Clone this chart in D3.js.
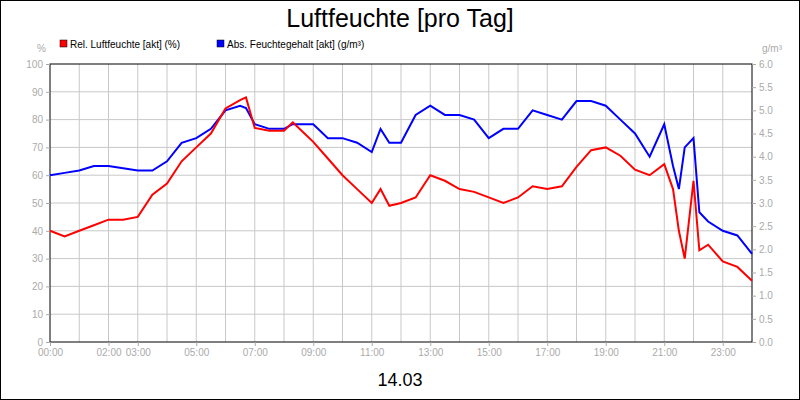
<!DOCTYPE html><html><head><script src="https://cdn.jsdelivr.net/npm/d3@7"></script>
<style>body{margin:0}svg{font-family:Arial,"Liberation Sans",sans-serif}</style></head><body><svg width="800" height="400"></svg>
<script>
const hours=[0,0.5,1,1.5,2,2.5,3,3.5,4,4.5,5,5.5,6,6.5,6.7,7,7.5,8,8.3,8.7,9,9.5,10,10.5,11,11.3,11.6,12,12.5,13,13.5,14,14.5,15,15.5,16,16.5,17,17.5,18,18.5,19,19.5,20,20.5,21,21.3,21.5,21.7,22,22.2,22.5,23,23.5,24];
const rel=[40,38,40,42,44,44,45,53,57,65,70,75,84,87,88,77,76,76,79,75,72,66,60,55,50,55,49,50,52,60,58,55,54,52,50,52,56,55,56,63,69,70,67,62,60,64,55,40,30,58,33,35,29,27,22];
const abs=[3.6,3.65,3.7,3.8,3.8,3.75,3.7,3.7,3.9,4.3,4.4,4.6,5.0,5.1,5.05,4.7,4.6,4.6,4.7,4.7,4.7,4.4,4.4,4.3,4.1,4.6,4.3,4.3,4.9,5.1,4.9,4.9,4.8,4.4,4.6,4.6,5.0,4.9,4.8,5.2,5.2,5.1,4.8,4.5,4.0,4.7,3.8,3.3,4.2,4.4,2.8,2.6,2.4,2.3,1.9];
const xTicks=[0,2,3,5,7,9,11,13,15,17,19,21,23];
const svg=d3.select("svg");
svg.append("rect").attr("x",0.5).attr("y",0.5).attr("width",799).attr("height",399).attr("fill","#fff").attr("stroke","#000");
const L=50,R=752,T=64,B=342;
const x=d3.scaleLinear().domain([0,24]).range([L,R]);
const yL=d3.scaleLinear().domain([0,100]).range([B,T]);
const yR=d3.scaleLinear().domain([0,6]).range([B,T]);
const g=svg.append("g");
d3.range(1,24).forEach(h=>g.append("line").attr("x1",x(h)).attr("x2",x(h)).attr("y1",T).attr("y2",B).attr("stroke","#c8c8c8"));
d3.range(10,100,10).forEach(v=>g.append("line").attr("x1",L).attr("x2",R).attr("y1",yL(v)).attr("y2",yL(v)).attr("stroke","#c8c8c8"));
g.append("rect").attr("x",L).attr("y",T).attr("width",R-L).attr("height",B-T).attr("fill","none").attr("stroke","#000");
const ax=svg.append("g").attr("transform",`translate(0,${B})`).call(d3.axisBottom(x).tickValues(xTicks).tickSize(4).tickFormat(d=>String(d).padStart(2,"0")+":00"));
const al=svg.append("g").attr("transform",`translate(${L},0)`).call(d3.axisLeft(yL).tickValues(d3.range(0,101,10)).tickSize(4));
const ar=svg.append("g").attr("transform",`translate(${R},0)`).call(d3.axisRight(yR).tickValues(d3.range(0,6.01,0.5)).tickSize(4).tickFormat(d3.format(".1f")));
[ax,al,ar].forEach(a=>{a.select(".domain").remove();a.selectAll("line").attr("stroke","#aaa");a.selectAll("text").attr("fill","#aaa").attr("font-size",10);});
const line=(ys,data)=>d3.line().x((d,i)=>x(hours[i])).y(d=>ys(d))(data);
svg.append("path").attr("d",line(yR,abs)).attr("fill","none").attr("stroke","#0000ff").attr("stroke-width",2);
svg.append("path").attr("d",line(yL,rel)).attr("fill","none").attr("stroke","#ff0000").attr("stroke-width",2);
svg.append("text").attr("x",400).attr("y",27).attr("text-anchor","middle").attr("font-size",25).text("Luftfeuchte [pro Tag]");
svg.append("text").attr("x",400).attr("y",386).attr("text-anchor","middle").attr("font-size",18).text("14.03");
svg.append("text").attr("x",46).attr("y",52).attr("text-anchor","end").attr("font-size",10).attr("fill","#aaa").text("%");
svg.append("text").attr("x",772).attr("y",52).attr("text-anchor","middle").attr("font-size",10).attr("fill","#aaa").text("g/m³");
[["Rel. Luftfeuchte [akt] (%)","#ff0000",60],["Abs. Feuchtegehalt [akt] (g/m³)","#0000ff",217]].forEach(([t,c,px])=>{
svg.append("rect").attr("x",px).attr("y",40).attr("width",7).attr("height",7).attr("fill",c).attr("stroke","#000").attr("stroke-width",0.5);
svg.append("text").attr("x",px+10).attr("y",48).attr("font-size",10).text(t);});
</script></body></html>
